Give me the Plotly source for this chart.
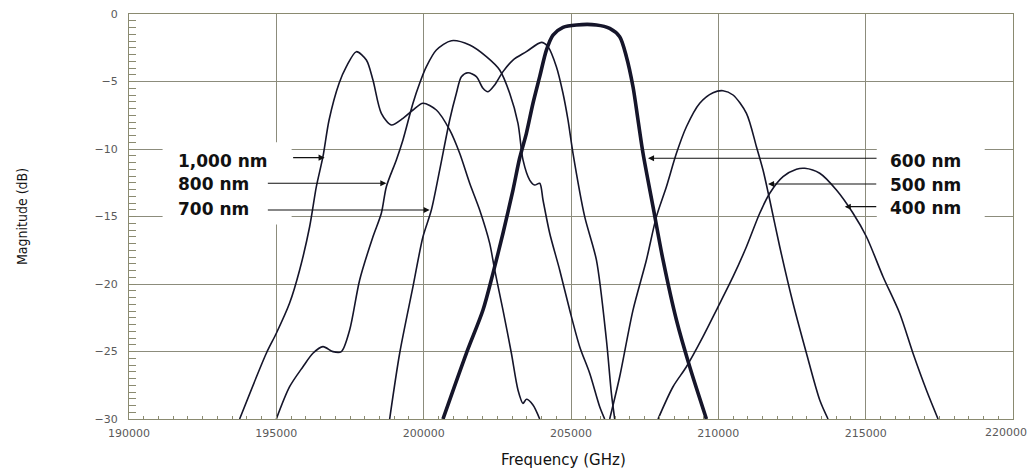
import plotly.graph_objects as go

# ---- data (Frequency GHz, Magnitude dB) ----
f_1000 = [193754, 194661, 195000, 195451, 195791, 196130, 196358, 196582, 196790, 197130,
          197376, 197716, 198055, 198279, 198564, 198903, 199297, 199637, 199976, 200431,
          200883, 201222, 201562, 201901, 202241, 202410, 202692, 202977, 203201, 203371,
          203486, 203710, 203938]
m_1000 = [-30, -25.13, -23.65, -21.41, -18.96, -15.76, -12.79, -10.57, -7.85, -5.13,
          -3.90, -2.79, -3.41, -4.89, -7.36, -8.22, -7.73, -7.11, -6.61, -7.11,
          -8.59, -10.32, -12.54, -14.52, -16.99, -18.96, -21.93, -25.13, -27.85, -28.84,
          -28.54, -28.96, -30]

f_800 = [195000, 195451, 195903, 196242, 196582, 196921, 197206, 197488, 197828, 198279,
         198564, 198734, 199073, 199297, 199637, 199864, 200092, 200431, 200940, 201562,
         202128, 202580, 202919, 203201, 203371, 203598, 203768, 203938, 204050, 204277,
         204616, 204956, 205295, 205634, 205974, 206143]
m_800 = [-30, -27.61, -26.13, -25.13, -24.64, -25.01, -25.01, -23.41, -19.70, -16.50,
         -14.76, -12.79, -10.81, -9.33, -6.61, -5.13, -3.90, -2.67, -1.98, -2.30,
         -3.16, -4.15, -5.87, -8.10, -10.81, -12.30, -12.67, -12.54, -13.78, -16.24,
         -18.96, -21.93, -24.64, -26.61, -29.09, -30]

f_700 = [198846, 199186, 199637, 199976, 200261, 200543, 200883, 201110, 201280, 201504,
         201789, 202013, 202183, 202410, 202692, 203031, 203486, 203995, 204219, 204504,
         204728, 204898, 205068, 205465, 205862, 206202, 206371, 206483]
m_700 = [-30, -25.13, -20.20, -16.50, -14.52, -11.56, -7.85, -5.87, -4.64, -4.35,
         -4.64, -5.50, -5.76, -5.26, -4.27, -3.41, -2.79, -2.10, -2.42, -3.90,
         -5.87, -7.85, -10.32, -15.01, -18.22, -24.15, -28.10, -30]

f_600 = [200655, 201449, 202013, 202352, 202692, 203031, 203258, 203486, 203710, 203938,
         204165, 204389, 204728, 205183, 205862, 206313, 206652, 206880, 207104, 207274,
         207444, 207783, 208123, 208578, 209029, 209596]
m_600 = [-30, -25.13, -21.93, -19.21, -16.24, -13.04, -10.67, -8.84, -6.61, -4.64,
         -2.67, -1.56, -0.99, -0.81, -0.81, -1.06, -1.68, -3.16, -5.39, -7.85,
         -10.32, -14.27, -18.22, -22.67, -26.13, -30]

f_500 = [206313, 206652, 207104, 207559, 207899, 208238, 208578, 208917, 209369, 209820,
         210159, 210499, 210954, 211293, 211517, 211745, 212084, 212536, 212990, 213441,
         213723]
m_500 = [-30, -26.87, -21.93, -18.22, -15.01, -12.79, -10.32, -8.35, -6.61, -5.83,
         -5.68, -6.00, -7.36, -9.83, -11.56, -13.78, -17.24, -21.43, -25.13, -28.59,
         -30]

f_400 = [207953, 208462, 208917, 209480, 209935, 210499, 210954, 211405, 211745, 212196,
         212651, 212933, 213441, 214008, 214572, 215027, 215590, 216154, 216606, 217060,
         217457]
m_400 = [-30, -27.61, -26.13, -23.90, -21.93, -19.46, -17.24, -14.76, -13.28, -12.05,
         -11.50, -11.43, -11.80, -13.04, -14.76, -16.50, -19.46, -22.17, -25.13, -27.85,
         -30]

series_names = ["1,000 nm", "800 nm", "700 nm", "600 nm", "500 nm", "400 nm"]
series_f = [f_1000, f_800, f_700, f_600, f_500, f_400]
series_m = [m_1000, m_800, m_700, m_600, m_500, m_400]
series_w = [1.6, 1.6, 1.6, 3.6, 1.6, 1.6]

# label text position, arrow tail and arrow head (data coordinates)
left_labels = ["1,000 nm", "800 nm", "700 nm"]
left_label_y = [-10.91, -12.59, -14.41]
left_arrow_tail = [(195519, -10.64), (194661, -12.54), (194661, -14.52)]
left_arrow_head = [(196639, -10.64), (198734, -12.54), (200203, -14.52)]

right_labels = ["600 nm", "500 nm", "400 nm"]
right_label_y = [-10.91, -12.67, -14.35]
right_arrow_tail = [(215420, -10.69), (215410, -12.59), (215410, -14.27)]
right_arrow_head = [(207614, -10.69), (211687, -12.59), (214290, -14.27)]

x_ticks = [190000, 195000, 200000, 205000, 210000, 215000, 220000]
y_ticks = [0, -5, -10, -15, -20, -25, -30]

fig = go.Figure()
for name, fx, my, w in zip(series_names, series_f, series_m, series_w):
    fig.add_trace(go.Scatter(
        x=fx, y=my, mode="lines", name=name,
        line=dict(color="#15152a", width=w, shape="spline", smoothing=0.8),
        showlegend=False, hoverinfo="skip"))

# white boxes behind labels (interrupting gridlines)
fig.add_shape(type="rect", xref="x", yref="y", x0=191140, x1=195519, y0=-15.6, y1=-9.5,
              fillcolor="white", line=dict(width=0), layer="between")
fig.add_shape(type="rect", xref="x", yref="y", x0=215377, x1=219040, y0=-15.6, y1=-9.5,
              fillcolor="white", line=dict(width=0), layer="between")

label_font = dict(family="DejaVu Sans", size=17, color="#111111")
for txt, ly in zip(left_labels, left_label_y):
    fig.add_annotation(x=191582, y=ly, xref="x", yref="y", text="<b>" + txt + "</b>",
                       showarrow=False, xanchor="left", yanchor="middle", font=label_font)
for txt, ly in zip(right_labels, right_label_y):
    fig.add_annotation(x=215750, y=ly, xref="x", yref="y", text="<b>" + txt + "</b>",
                       showarrow=False, xanchor="left", yanchor="middle", font=label_font)

for (tx, ty), (hx, hy) in zip(left_arrow_tail + right_arrow_tail,
                              left_arrow_head + right_arrow_head):
    fig.add_annotation(x=hx, y=hy, ax=tx, ay=ty, xref="x", yref="y", axref="x", ayref="y",
                       text="", showarrow=True, arrowhead=2, arrowsize=1.1,
                       arrowwidth=1.1, arrowcolor="#111111", standoff=0, startstandoff=0)

# axis titles
fig.add_annotation(x=0.4917, y=-0.101, xref="paper", yref="paper", text="Frequency (GHz)",
                   showarrow=False, xanchor="center", yanchor="middle",
                   font=dict(family="DejaVu Sans", size=15, color="#111111"))
fig.add_annotation(x=-0.1215, y=0.5, xref="paper", yref="paper", text="Magnitude (dB)",
                   showarrow=False, xanchor="center", yanchor="middle", textangle=-90,
                   font=dict(family="DejaVu Sans Condensed, DejaVu Sans", size=14,
                             color="#111111"))

tick_font = dict(family="DejaVu Sans", size=11, color="#5a5a5a")
# last x tick label sits shifted left so it stays inside the picture
x_tick_text = [str(v) for v in x_ticks[:-1]] + [""]
fig.add_annotation(x=x_ticks[-1], y=0, xref="x", yref="paper", text=str(x_ticks[-1]),
                   showarrow=False, xanchor="right", yanchor="top", xshift=16, yshift=-5,
                   font=tick_font)

grid_col = "#8c8c7c"
fig.update_xaxes(range=[190000, 220000], tickmode="array", tickvals=x_ticks,
                 ticktext=x_tick_text, tickfont=tick_font,
                 ticklabeloverflow="allow", automargin=False,
                 showgrid=True, gridcolor=grid_col, gridwidth=1,
                 showline=True, linecolor="#8a8a70", linewidth=1.2, mirror=True,
                 ticks="inside", ticklen=3, tickcolor="#8a8a70",
                 minor=dict(dtick=500, tick0=190000, ticks="inside", ticklen=3,
                            tickcolor="#8a8a70", showgrid=False),
                 zeroline=False, ticklabelstandoff=4)
fig.update_yaxes(range=[-30, 0], tickmode="array", tickvals=y_ticks,
                 tickfont=tick_font, automargin=False,
                 showgrid=True, gridcolor=grid_col, gridwidth=1,
                 showline=True, linecolor="#8a8a70", linewidth=1.2, mirror=True,
                 ticks="inside", ticklen=7, tickcolor="#8a8a70",
                 minor=dict(dtick=0.5, tick0=0, ticks="inside", ticklen=7,
                            tickcolor="#8a8a70", showgrid=False),
                 zeroline=False, ticklabelstandoff=8)

fig.update_layout(width=1032, height=474, margin=dict(l=129, r=19, t=14, b=55),
                  paper_bgcolor="white", plot_bgcolor="white", showlegend=False)

fig.write_html("out.html", config={"displayModeBar": False},
               post_script="document.body.style.margin='0';"
                           "document.body.style.overflow='hidden';")
